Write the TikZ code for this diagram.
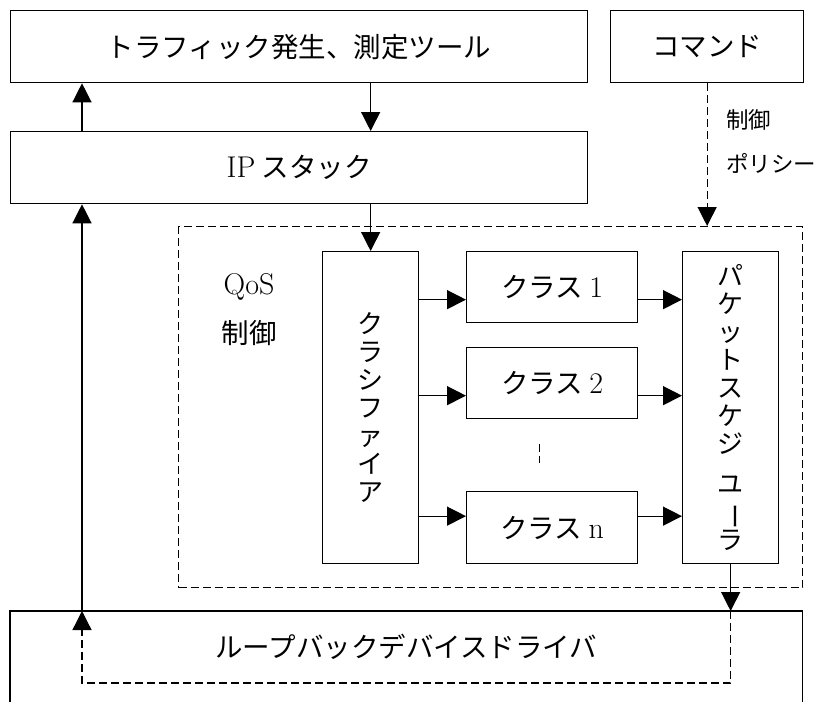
\documentclass[tikz,border=0pt]{standalone}
\usepackage{fontspec}
\usepackage{graphicx}
\newfontfamily\jp{Noto Sans CJK JP}
\newcommand\mylat[1]{{\rmfamily\fontsize{30}{30}\selectfont #1}}
\usetikzlibrary{arrows.meta}
\begin{document}
\begin{tikzpicture}[x=1pt,y=-1pt,
  box/.style={draw, line width=1.3pt, inner sep=0pt, anchor=north west},
  arr/.style={line width=1.3pt, -{Triangle[length=19pt,width=19pt]}},
  dsh/.style={line width=1.3pt, dash pattern=on 8pt off 4pt},
  lbl/.style={font=\jp\fontsize{27.5}{30}\selectfont},
  slbl/.style={font=\jp\fontsize{22.5}{24}\selectfont, anchor=west, inner sep=0pt},
  vtxt/.style={font=\jp\fontsize{26}{28}\selectfont, align=center}]
\useasboundingbox (0,0) rectangle (820,702);

% boxes
\node[box, lbl, minimum width=577pt, minimum height=72pt] (top) at (10,10) {トラフィック発生、測定ツール};
\node[box, lbl, minimum width=193pt, minimum height=72pt] (cmd) at (610,10) {コマンド};
\node[box, lbl, minimum width=577pt, minimum height=72pt] (ip) at (10,131) {\mylat{IP} スタック};
\node[box, dsh, minimum width=624pt, minimum height=361pt] (qos) at (178,226) {};
\node[box, minimum width=96pt, minimum height=312pt] (cls) at (322,251) {};
\node[vtxt] (clslab) at (cls.center) {ク\\ラ\\シ\\フ\\ァ\\イ\\ア};
\node[box, lbl, minimum width=171pt, minimum height=71pt] (c1) at (466,251) {クラス \mylat{1}};
\node[box, lbl, minimum width=171pt, minimum height=71pt] (c2) at (466,347) {クラス \mylat{2}};
\node[box, lbl, minimum width=171pt, minimum height=72pt] (cn) at (466,491) {クラス \mylat{n}};
\node[box, minimum width=96pt, minimum height=312pt] (sch) at (682,251) {};
\node[vtxt] (schlab) at (sch.center) {パ\\ケ\\ッ\\ト\\ス\\ケ\\ジ\\[12pt]ユ\\\rotatebox[origin=c]{-90}{ー}\\ラ};
\node[anchor=north west, minimum width=792pt, minimum height=91pt, inner sep=0pt] (loop) at (10,611) {};
\draw[line width=1.3pt] (loop.south west) -- (loop.north west) -- (loop.north east) -- (loop.south east);
\node[lbl] (looplab) at ([yshift=-36pt]loop.north) {ループバックデバイスドライバ};

% labels
\node[lbl] (qoslab) at (249,287) {\mylat{QoS}};
\node[lbl] (qosctl) at (249,333) {制御};
\node[slbl] (ctl) at (726,120) {制御};
\node[slbl] (pol) at (726,163) {ポリシー};

% connectors
\coordinate (lx) at ([xshift=72pt]ip.south west);
\draw[arr] (ip.north -| lx) -- (top.south -| lx);
\draw[arr] (top.south -| cls.north) -- (ip.north -| cls.north);
\draw[arr] (ip.south -| cls.north) -- (cls.north);
\draw[arr, dsh] (cmd.south) -- (cmd.south |- qos.north);

\coordinate (r1) at ([yshift=-12.5pt]c1.west);
\coordinate (r2) at ([yshift=-12.5pt]c2.west);
\coordinate (rn) at ([yshift=11.5pt]cn.west);
\draw[arr] (cls.east |- r1) -- (r1);
\draw[arr] (cls.east |- r2) -- (r2);
\draw[arr] (cls.east |- rn) -- (rn);
\draw[arr] (c1.east |- r1) -- (sch.west |- r1);
\draw[arr] (c2.east |- r2) -- (sch.west |- r2);
\draw[arr] (cn.east |- rn) -- (sch.west |- rn);

\draw[dsh] ([xshift=-13pt,yshift=-25pt]c2.south) -- ([xshift=-13pt,yshift=28pt]cn.north);

\coordinate (lb) at ([yshift=-72pt]loop.north west);
\draw[arr] (sch.south) -- (sch.south |- loop.north);
\draw[arr, dsh] (sch.south |- loop.north) -- (sch.south |- lb) -| (loop.north -| lx);
\draw[arr] (loop.north -| lx) -- (ip.south -| lx);
\end{tikzpicture}
\end{document}
